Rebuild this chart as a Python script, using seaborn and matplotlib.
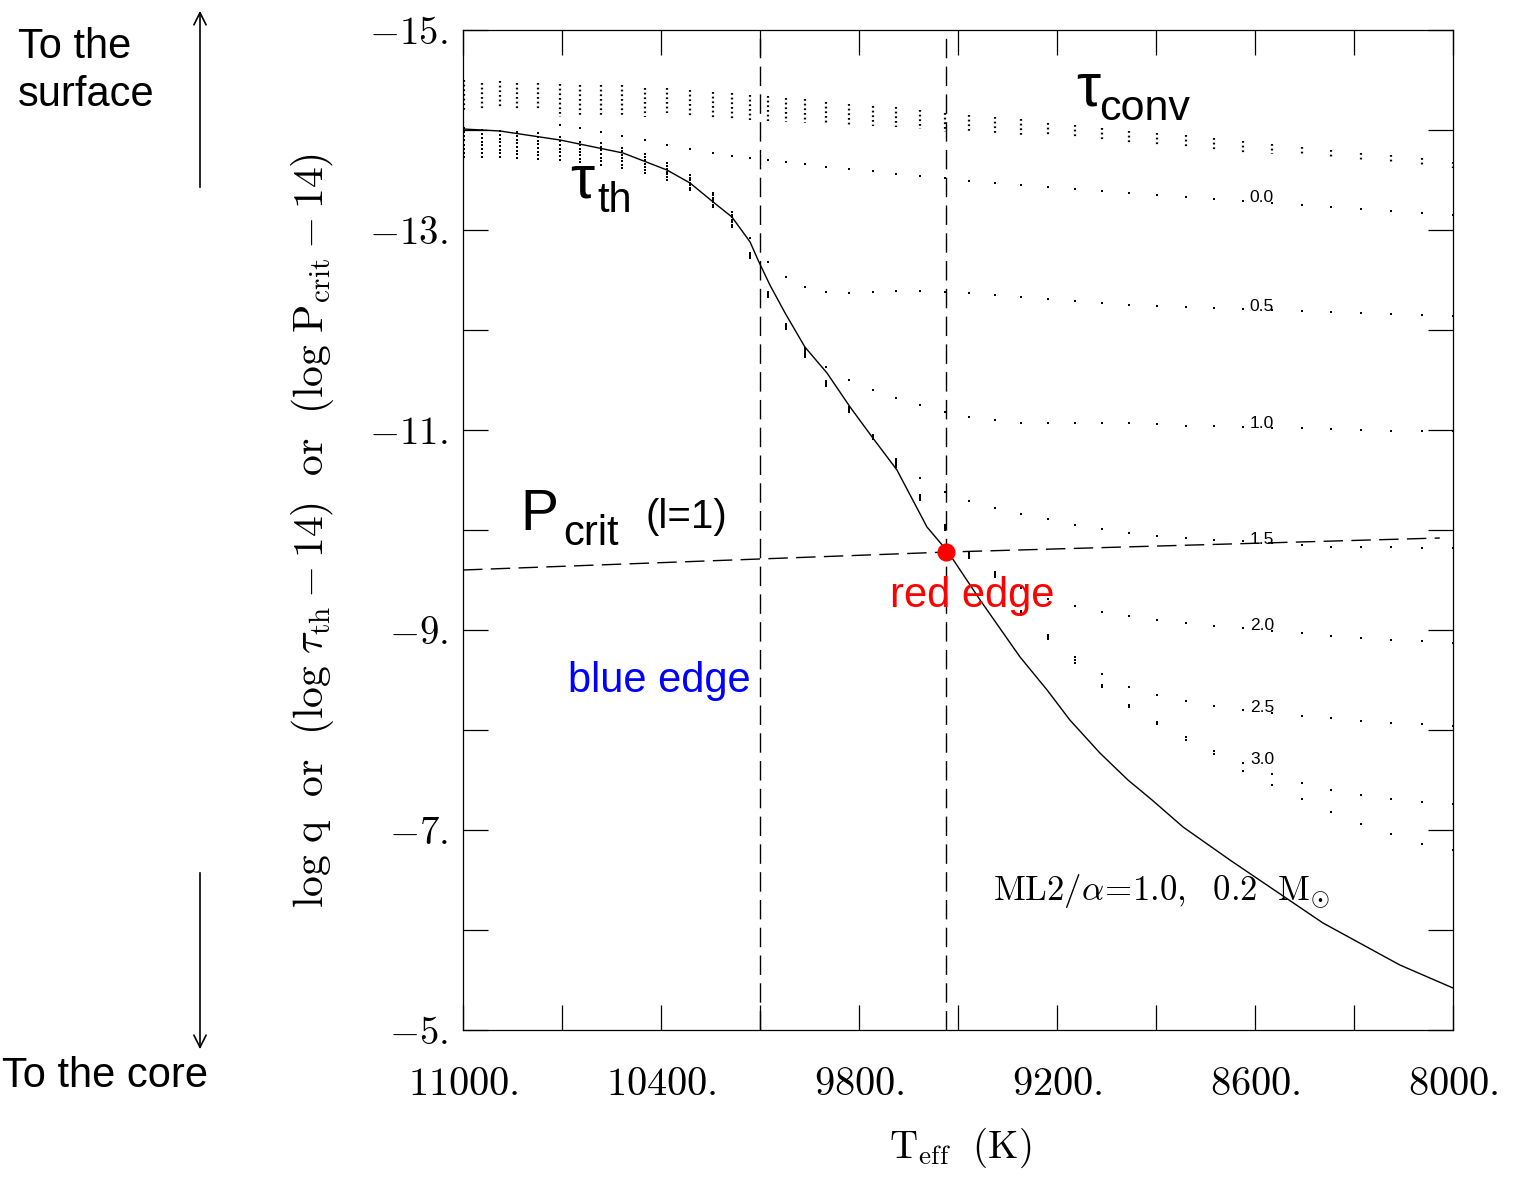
import matplotlib
matplotlib.use("Agg")
import matplotlib.pyplot as plt
import pandas as pd
import seaborn as sns
from matplotlib.ticker import FixedLocator

# effective temperatures of the model sequence (one column of dots per model)
teff = [10997, 10942, 10888, 10836, 10773, 10706, 10645, 10582, 10518, 10448,
        10382, 10312, 10242, 10185, 10130, 10076, 10021, 9964, 9900, 9830,
        9758, 9688, 9615, 9539, 9467, 9388, 9309, 9227, 9145, 9064,
        8982, 8897, 8809, 8724, 8636, 8548, 8458, 8370, 8279, 8188,
        8094, 8000]

# extent of the packed dots near the surface (negative levels)
conv_top = [-14.50, -14.47, -14.49, -14.47, -14.47, -14.46, -14.45, -14.45, -14.45, -14.42,
            -14.42, -14.40, -14.38, -14.37, -14.35, -14.34, -14.32, -14.31, -14.28, -14.26,
            -14.24, -14.23, -14.20, -14.17, -14.15, -14.13, -14.11, -14.07, -14.05, -14.02,
            -13.99, -13.97, -13.95, -13.92, -13.89, -13.86, -13.83, -13.80, -13.77, -13.75,
            -13.72, -13.68]
conv_bot = [-14.20, -14.21, -14.21, -14.19, -14.21, -14.13, -14.13, -14.13, -14.13, -14.13,
            -14.17, -14.13, -14.12, -14.10, -14.10, -14.09, -14.08, -14.07, -14.07, -14.05,
            -14.04, -14.03, -14.01, -13.98, -13.98, -13.96, -13.94, -13.93, -13.91, -13.88,
            -13.85, -13.84, -13.82, -13.80, -13.77, -13.76, -13.74, -13.72, -13.69, -13.67,
            -13.64, -13.62]

# log q of each log tau_conv level
lev_00 = [-14.02, -14.00, -13.99, -13.98, -13.97, -14.05, -14.02, -13.98, -13.94, -13.90,
          -13.85, -13.81, -13.77, -13.74, -13.72, -13.70, -13.68, -13.66, -13.63, -13.61,
          -13.59, -13.56, -13.54, -13.52, -13.49, -13.47, -13.45, -13.43, -13.41, -13.39,
          -13.37, -13.35, -13.33, -13.31, -13.29, -13.27, -13.25, -13.23, -13.21, -13.19,
          -13.17, -13.15]
lev_05 = [-13.98, -13.96, -13.95, -13.94, -13.93, -13.93, -13.88, -13.87, -13.82, -13.76,
          -13.67, -13.55, -13.37, -13.18, -12.92, -12.68, -12.53, -12.43, -12.38, -12.37,
          -12.38, -12.39, -12.39, -12.38, -12.37, -12.35, -12.33, -12.31, -12.29, -12.27,
          -12.25, -12.24, -12.23, -12.22, -12.21, -12.20, -12.19, -12.18, -12.17, -12.16,
          -12.15, -12.14]
lev_10 = [-13.94, -13.92, -13.91, -13.90, -13.89, -13.89, -13.85, -13.83, -13.79, -13.73,
          -13.64, -13.52, -13.35, -13.15, -12.77, -12.38, -12.06, -11.82, -11.63, -11.50,
          -11.40, -11.32, -11.25, -11.18, -11.13, -11.10, -11.07, -11.07, -11.07, -11.07,
          -11.07, -11.06, -11.04, -11.04, -11.03, -11.02, -11.02, -11.01, -11.00, -10.99,
          -10.99, -10.99]
lev_15 = [-13.90, -13.88, -13.88, -13.87, -13.86, -13.85, -13.81, -13.80, -13.75, -13.70,
          -13.61, -13.50, -13.32, -13.13, -12.76, -12.37, -12.05, -11.80, -11.49, -11.23,
          -10.95, -10.71, -10.52, -10.38, -10.29, -10.22, -10.16, -10.11, -10.05, -10.01,
          -9.97, -9.94, -9.92, -9.90, -9.89, -9.87, -9.85, -9.83, -9.83, -9.83,
          -9.82, -9.82]
lev_20 = [-13.85, -13.85, -13.84, -13.83, -13.82, -13.81, -13.78, -13.76, -13.72, -13.66,
          -13.58, -13.47, -13.30, -13.10, -12.75, -12.36, -12.04, -11.78, -11.48, -11.22,
          -10.94, -10.69, -10.35, -10.05, -9.78, -9.58, -9.42, -9.31, -9.24, -9.18,
          -9.14, -9.10, -9.07, -9.04, -9.02, -8.99, -8.97, -8.94, -8.92, -8.90,
          -8.89, -8.87]
lev_25 = [-13.81, -13.81, -13.80, -13.79, -13.78, -13.78, -13.75, -13.72, -13.69, -13.63,
          -13.56, -13.45, -13.28, -13.08, -12.74, -12.35, -12.03, -11.77, -11.47, -11.20,
          -10.93, -10.67, -10.33, -10.03, -9.76, -9.56, -9.19, -8.95, -8.73, -8.56,
          -8.43, -8.35, -8.29, -8.24, -8.20, -8.17, -8.14, -8.12, -8.09, -8.07,
          -8.06, -8.04]
lev_30 = [-13.77, -13.77, -13.77, -13.76, -13.75, -13.74, -13.71, -13.69, -13.65, -13.60,
          -13.53, -13.42, -13.25, -13.05, -12.73, -12.34, -12.02, -11.75, -11.46, -11.19,
          -10.92, -10.65, -10.32, -10.02, -9.74, -9.55, -9.17, -8.93, -8.70, -8.45,
          -8.25, -8.08, -7.93, -7.79, -7.67, -7.56, -7.47, -7.40, -7.35, -7.31,
          -7.28, -7.26]
lev_35 = [-13.73, -13.73, -13.73, -13.72, -13.71, -13.70, -13.68, -13.65, -13.62, -13.57,
          -13.50, -13.40, -13.23, -13.03, -12.72, -12.33, -12.01, -11.73, -11.44, -11.18,
          -10.91, -10.63, -10.30, -10.00, -9.72, -9.53, -9.15, -8.91, -8.67, -8.43,
          -8.23, -8.06, -7.90, -7.76, -7.59, -7.45, -7.31, -7.18, -7.06, -6.96,
          -6.86, -6.80]
level_values = [0.0, 0.5, 1.0, 1.5, 2.0, 2.5, 3.0, 3.5]

# labels written on the level rows
level_names = ["0.0", "0.5", "1.0", "1.5", "2.0", "2.5", "3.0"]
level_label_teff = 8579
level_label_logq = [-13.28, -12.19, -11.02, -9.86, -9.00, -8.18, -7.66]

# thermal timescale curve (log tau_th - 14)
tau_teff = [11000, 10888, 10706, 10515, 10382, 10312, 10242, 10185, 10130, 10106,
            10070, 10024, 9964, 9897, 9827, 9758, 9685, 9594, 9530, 9433,
            9312, 9230, 9161, 9070, 8985, 8912, 8818, 8676, 8394, 8161, 8000]
tau_logq = [-14.01, -13.99, -13.90, -13.77, -13.60, -13.47, -13.28, -13.13, -12.88, -12.70,
            -12.45, -12.17, -11.83, -11.57, -11.23, -10.92, -10.60, -10.03, -9.78, -9.30,
            -8.73, -8.40, -8.10, -7.77, -7.50, -7.30, -7.03, -6.70, -6.07, -5.65, -5.42]

# critical period line (log P_crit - 14), l = 1
pcrit_teff = [11000, 9530, 8040]
pcrit_logq = [-9.60, -9.78, -9.92]

blue_edge_teff = 10100
red_edge_teff = 9535
red_edge_logq = -9.78

xtick_vals = [11000, 10400, 9800, 9200, 8600, 8000]
xtick_minor = [10700, 10100, 9500, 8900, 8300]
ytick_vals = [-15, -13, -11, -9, -7, -5]
ytick_minor = [-14, -12, -10, -8, -6]

W, H = 1522, 1178

sns.set_style("white")
plt.rcParams["font.family"] = ["Liberation Sans", "DejaVu Sans"]
plt.rcParams["mathtext.fontset"] = "cm"
for key in ["text.color", "axes.labelcolor", "xtick.color", "ytick.color", "axes.edgecolor"]:
    plt.rcParams[key] = "black"

fig = plt.figure(figsize=(W / 100, H / 100), dpi=100)
ax = fig.add_axes([463 / W, 1 - 1030 / H, 990 / W, 1000 / H])


def ftext(x, y, s, **kw):
    # place text using pixel positions of the figure (y measured from the top)
    return fig.text(x / W, 1 - y / H, s, **kw)


rows = []
for lv, ys in zip(level_values, [lev_00, lev_05, lev_10, lev_15, lev_20, lev_25, lev_30, lev_35]):
    for t, y in zip(teff, ys):
        rows.append({"teff": t, "logq": y, "level": lv})
df = pd.DataFrame(rows)

ax.vlines(teff, conv_top, conv_bot, colors="black", linewidth=1.6,
          linestyles=[(0, (0.8, 1.3))])

sns.scatterplot(data=df, x="teff", y="logq", color="black", marker="s", s=3,
                linewidth=0, legend=False, ax=ax)

sns.lineplot(x=tau_teff, y=tau_logq, sort=False, estimator=None, color="black",
             linewidth=1.0, ax=ax)

ax.plot(pcrit_teff, pcrit_logq, color="black", linewidth=1.0, dashes=(14, 6))
for t in [blue_edge_teff, red_edge_teff]:
    ax.axvline(t, color="black", linewidth=1.0, dashes=(14, 6))

ax.scatter([red_edge_teff], [red_edge_logq], s=170, color="#ff0000", zorder=5,
           linewidth=0)

for name, y in zip(level_names, level_label_logq):
    ax.text(level_label_teff, y, name, fontsize=12.5, ha="center", va="baseline")

ax.set_xlim(11000, 8000)
ax.set_ylim(-5, -15)
ax.set_xlabel("")
ax.set_ylabel("")

ax.xaxis.set_major_locator(FixedLocator(xtick_vals))
ax.xaxis.set_minor_locator(FixedLocator(xtick_minor))
ax.yaxis.set_major_locator(FixedLocator(ytick_vals))
ax.yaxis.set_minor_locator(FixedLocator(ytick_minor))
ax.set_xticklabels([f"${v}.$" for v in xtick_vals])
ax.set_yticklabels([f"${v}.$" for v in ytick_vals])
ax.tick_params(which="both", direction="in", length=18, width=0.9,
               top=True, right=True, bottom=True, left=True)
ax.tick_params(axis="x", labelsize=29, pad=25)
ax.tick_params(axis="y", labelsize=28, pad=11)
for sp in ax.spines.values():
    sp.set_linewidth(0.9)
    sp.set_color("black")

# axis titles
ftext(312, 530,
      r"$\rm log\ q\ \ or\ \ (log\ \tau_{th}-14)\ \ or\ \ (log\ P_{crit}-14)$",
      rotation=90, ha="center", va="center", fontsize=30)
ftext(960, 1158, r"$\rm T_{eff}\ \ (K)$", ha="center", va="baseline", fontsize=28)

# annotations inside the plot
ftext(570, 198, "τ", fontsize=44, va="baseline")
ftext(597, 212, "th", fontsize=30, va="baseline")
ftext(1076, 105, "τ", fontsize=44, va="baseline")
ftext(1099, 120, "conv", fontsize=31, va="baseline")
ftext(520, 530, "P", fontsize=41, va="baseline")
ftext(563, 545, "crit", fontsize=30, va="baseline")
ftext(645, 528, "(l=1)", fontsize=29, va="baseline")
ftext(568, 692, "blue edge", fontsize=30, color="#0000ff", va="baseline")
ftext(890, 607, "red edge", fontsize=30, color="#ff0000", va="baseline")
ftext(993, 900, r"$\rm ML2/\alpha\!=\!1.0,\ \ 0.2\ \ M_{\odot}$", fontsize=25,
      va="baseline")

# surface / core pointers
ftext(18, 58, "To the", fontsize=30, va="baseline")
ftext(18, 106, "surface", fontsize=30, va="baseline")
ftext(2, 1087, "To the core", fontsize=30, va="baseline")
ax.annotate("", xy=(200, H - 8), xytext=(200, H - 190), xycoords="figure pixels",
            textcoords="figure pixels",
            arrowprops=dict(arrowstyle="->", lw=1.2, color="black", mutation_scale=22))
ax.annotate("", xy=(200, H - 1052), xytext=(200, H - 870), xycoords="figure pixels",
            textcoords="figure pixels",
            arrowprops=dict(arrowstyle="->", lw=1.2, color="black", mutation_scale=22))

fig.savefig("out.png", dpi=100)
plt.close(fig)
